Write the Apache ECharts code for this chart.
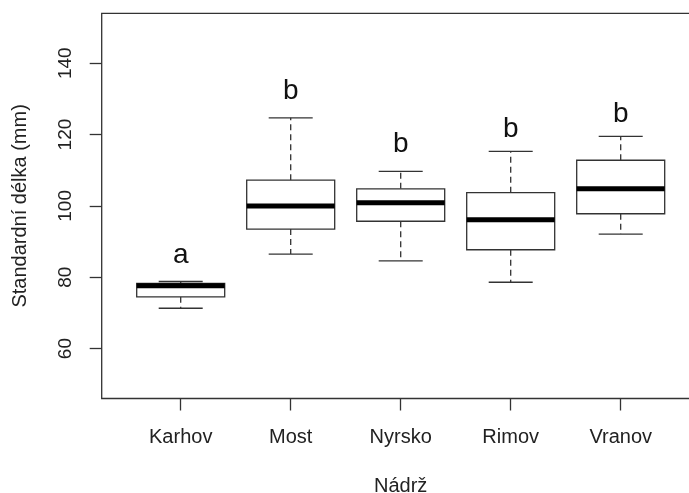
<!DOCTYPE html>
<html>
<head>
<meta charset="utf-8">
<script src="https://cdn.jsdelivr.net/npm/echarts@6/dist/echarts.min.js"></script>
<style>
  html, body { margin: 0; padding: 0; background: #ffffff; }
  #chart { width: 689px; height: 493px; }
</style>
</head>
<body>
<div id="chart"></div>
<script>
// Reservoirs (Nádrž)
const categories = ['Karhov', 'Most', 'Nyrsko', 'Rimov', 'Vranov'];
// Five-number summaries of standard length (mm)
const lowerWhisker = [71.3, 86.5, 84.6, 78.6, 92.1];
const lowerQuartile = [74.5, 93.5, 95.7, 87.7, 97.8];
const medians = [77.6, 100.0, 100.9, 96.1, 104.8];
const upperQuartile = [78.3, 107.2, 104.8, 103.7, 112.8];
const upperWhisker = [78.8, 124.7, 109.7, 115.3, 119.5];
// Significance group letters and the height they are written at
const groupLetters = ['a', 'b', 'b', 'b', 'b'];
const letterHeight = [86.1, 132.2, 117.4, 121.5, 125.7];
// Value-axis ticks
const yTicks = [60, 80, 100, 120, 140];
const yMin = 46, yMax = 154;

const FONT = '"Liberation Sans", Arial, sans-serif';
const INK = '#333333';
const TEXT = '#222222';

const boxData = categories.map((c, i) => [
  i, lowerWhisker[i], lowerQuartile[i], medians[i], upperQuartile[i], upperWhisker[i], groupLetters[i], letterHeight[i]
]);

function renderBox(params, api) {
  const i = api.value(0);
  const band = api.size([1, 0])[0];
  const bw = band * 0.8;
  const cw = bw / 2;
  const pt = v => api.coord([i, v]);
  const [cx, yLo] = pt(api.value(1));
  const yQ1 = pt(api.value(2))[1];
  const yMed = pt(api.value(3))[1];
  const yQ3 = pt(api.value(4))[1];
  const yHi = pt(api.value(5))[1];
  const yLetter = pt(api.value(7))[1];
  const dashed = { stroke: INK, lineWidth: 1.3, lineDash: [6, 4] };
  const solid = { stroke: INK, lineWidth: 1.3 };
  return {
    type: 'group',
    children: [
      { type: 'line', shape: { x1: cx, y1: yQ3, x2: cx, y2: yHi }, style: dashed },
      { type: 'line', shape: { x1: cx, y1: yQ1, x2: cx, y2: yLo }, style: dashed },
      { type: 'line', shape: { x1: cx - cw / 2, y1: yHi, x2: cx + cw / 2, y2: yHi }, style: solid },
      { type: 'line', shape: { x1: cx - cw / 2, y1: yLo, x2: cx + cw / 2, y2: yLo }, style: solid },
      { type: 'rect', shape: { x: cx - bw / 2, y: yQ3, width: bw, height: yQ1 - yQ3 },
        style: { fill: '#ffffff', stroke: INK, lineWidth: 1.3 } },
      { type: 'line', shape: { x1: cx - bw / 2, y1: yMed, x2: cx + bw / 2, y2: yMed },
        style: { stroke: '#000000', lineWidth: 5 } },
      { type: 'text', x: cx, y: yLetter,
        style: { text: api.value(6), fill: '#111111', font: '28px ' + FONT, align: 'center', verticalAlign: 'middle' } }
    ]
  };
}

const chart = echarts.init(document.getElementById('chart'), null, { renderer: 'canvas' });
chart.setOption({
  backgroundColor: '#ffffff',
  animation: false,
  grid: [
    // plot frame
    { left: 101.7, right: -9, top: 13.3, bottom: 94.5, show: true, borderColor: INK, borderWidth: 1.3,
      backgroundColor: 'transparent', containLabel: false, outerBoundsMode: 'none' },
    // category band area
    { left: 125.7, right: 13.3, top: 13.3, bottom: 94.5, containLabel: false, outerBoundsMode: 'none' }
  ],
  xAxis: [
    { gridIndex: 0, type: 'value', min: 0, max: 1, show: false },
    {
      gridIndex: 1, type: 'category', data: categories,
      axisLine: { show: false },
      axisTick: { show: true, alignWithLabel: true, length: 12, lineStyle: { color: INK, width: 1.3 } },
      axisLabel: { margin: 28.5, fontSize: 20, color: TEXT, fontFamily: FONT },
      name: 'Nádrž', nameLocation: 'middle', nameGap: 77.5,
      nameTextStyle: { fontSize: 20, color: TEXT, fontFamily: FONT }
    }
  ],
  yAxis: [
    {
      gridIndex: 0, type: 'value', min: yMin, max: yMax,
      splitLine: { show: false },
      axisLine: { show: false },
      axisTick: { show: true, length: 12, customValues: yTicks, lineStyle: { color: INK, width: 1.3 } },
      axisLabel: { rotate: 90, margin: 26, fontSize: 19, color: TEXT, fontFamily: FONT, customValues: yTicks },
      name: 'Standardní délka (mm)', nameLocation: 'middle', nameGap: 71,
      nameTextStyle: { fontSize: 20, color: TEXT, fontFamily: FONT }
    },
    { gridIndex: 1, type: 'value', min: yMin, max: yMax, show: false }
  ],
  series: [{
    type: 'custom',
    xAxisIndex: 1, yAxisIndex: 1,
    data: boxData,
    encode: { x: 0, y: [1, 2, 3, 4, 5, 7] },
    renderItem: renderBox,
    clip: false
  }]
});
</script>
</body>
</html>
